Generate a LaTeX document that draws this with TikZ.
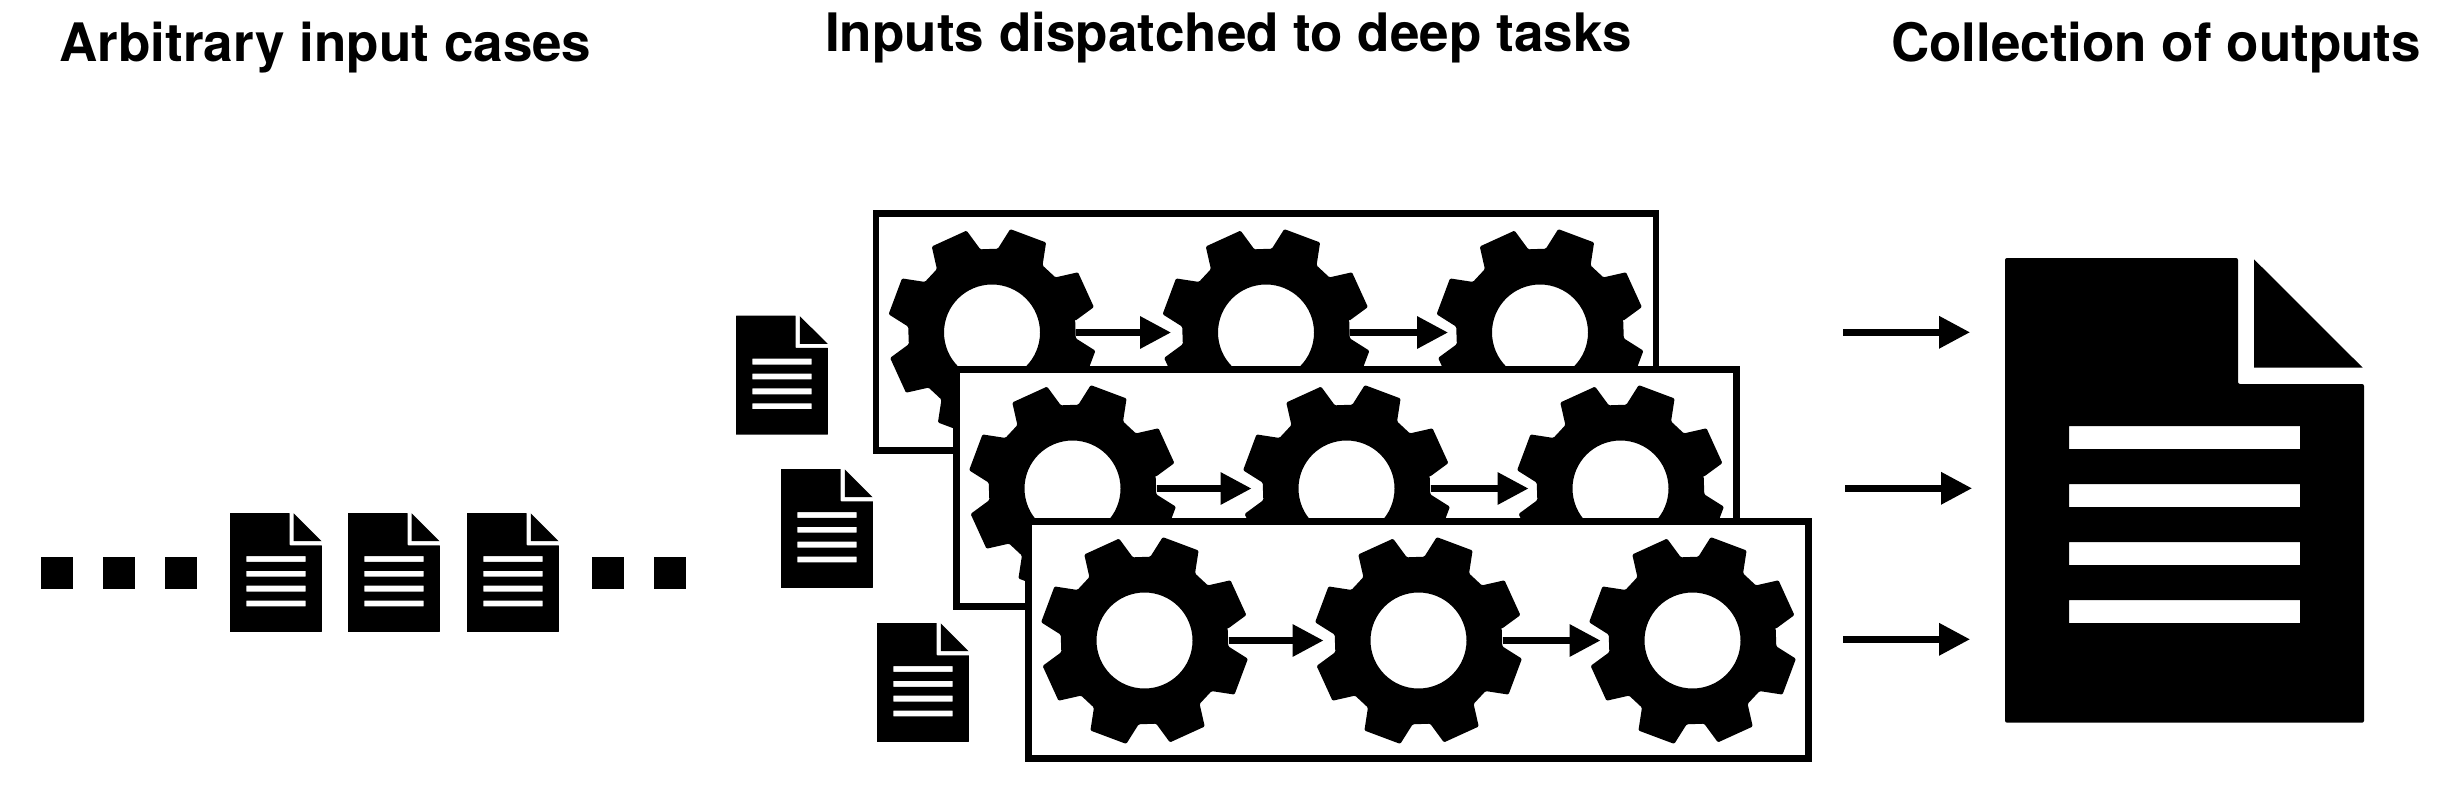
\documentclass[tikz,border=0pt]{standalone}
\usepackage{fontspec}
\setmainfont{TeX Gyre Heros}
\usetikzlibrary{arrows.meta}

\tikzset{
  gear/.pic={
    \fill[rounded corners=.6pt,even odd rule] (8:84)
      \foreach \a in {24.5,69.5,...,339.5} {-- (\a-16.5:84) -- (\a-10.5:105) -- (\a+10.5:105) -- (\a+16.5:84)}
      -- cycle (0,0) circle (48);
  },
  docicon/.pic={
    \fill[rounded corners=#1,even odd rule] (0,0) -- (233,0) -- (233,-126) -- (359,-126)
      -- (359,-464.7) -- (0,-464.7) -- cycle [sharp corners]
      (64,-168) rectangle (295,-191) (64,-226) rectangle (295,-249)
      (64,-284) rectangle (295,-307) (64,-342) rectangle (295,-365);
    \fill (249,-1.3) -- (357.7,-109.7) -- (249,-109.7) -- cycle;
  }
}

\begin{document}
\begin{tikzpicture}[x=0.5pt,y=0.5pt,
    title/.style={anchor=base west,inner sep=0,font=\fontsize{26.5}{30}\selectfont\bfseries},
    taskbox/.style={draw,fill=white,line width=3.25pt,anchor=north west,outer sep=0,inner sep=0,minimum width=390pt,minimum height=118.5pt},
    cog/.style={circle,inner sep=0,outer sep=0,minimum size=84pt},
    dotbox/.style={fill=black,inner sep=0,outer sep=0,minimum size=16pt},
    flow/.style={line width=3.25pt,-{Triangle[length=15.5pt,width=15.5pt]}}]
   \useasboundingbox (0,0) rectangle (2446,784);
   \node[title] (titleinput) at (59,722.3) {Arbitrary input cases};
   \node[title] (titletasks) at (824.7,732.3) {Inputs dispatched to deep tasks};
   \node[title] (titleoutput) at (1890.6,722.3) {Collection of outputs};

   \foreach \n/\x in {1/57,2/119,3/181,4/608,5/670}
     \node[dotbox] (dot\n) at (\x,211) {};
   \foreach \n/\x/\y in {1/230/271,2/348/271,3/467/271,4/736/468.3,5/781/315,6/877/161}
     \pic[scale=.256] (doc\n) at (\x,\y) {docicon=.2pt};

   \foreach \b/\x/\y in {1/876/570.5,2/956.5/414.5,3/1028.5/262.5} {
     \node[taskbox] (box\b) at (\x,\y) {};
     \foreach \g/\d in {a/116,b/390,c/664} {
       \node[cog] (cog\b\g) at (\x+\d,\y-119) {};
       \pic at (cog\b\g) {gear};
     }
     \draw[flow,shorten >=5.5pt] (cog\b a.east) -- (cog\b b.west);
     \draw[flow,shorten >=4pt] (cog\b b.east) -- (cog\b c.west);
   }

   \foreach \n/\x/\y in {1/1843/451.7,2/1845/295.7,3/1843/144.7} {
     \coordinate (outstart\n) at (\x,\y);
     \coordinate (outend\n) at (\x+127,\y);
     \draw[flow] (outstart\n) -- (outend\n);
   }
   \pic (docall) at (2005,526) {docicon=1pt};
\end{tikzpicture}
\end{document}
